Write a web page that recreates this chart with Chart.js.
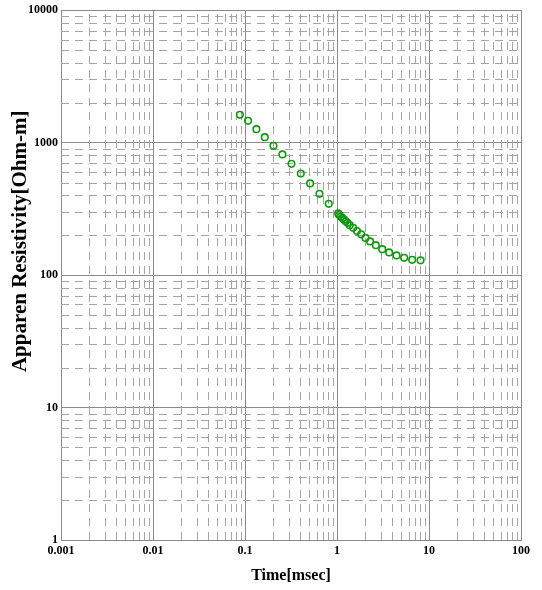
<!DOCTYPE html>
<html>
<head>
<meta charset="utf-8">
<script src="https://cdn.jsdelivr.net/npm/chart.js@4.4.1/dist/chart.umd.min.js"></script>
<style>
  html, body { margin: 0; padding: 0; background: #fff; }
</style>
</head>
<body>
<canvas id="chart" width="542" height="590"></canvas>
<script>
// sounding curve
const timeValues = [
    0.088, 0.108, 0.133, 0.164, 0.204, 0.255, 0.32, 0.404, 0.51, 0.645, 0.814,
    1.03, 1.054, 1.10, 1.148, 1.195, 1.247, 1.30, 1.377, 1.50, 1.65, 1.83,
    2.04, 2.29, 2.64, 3.10, 3.69, 4.44, 5.37, 6.56, 8.10
];
const resistivityValues = [
    1622, 1461, 1265, 1100, 946, 815, 692, 585, 492, 411, 345,
    292, 284, 276, 269, 262, 255, 248, 238, 227.5, 215, 203,
    191, 179.6, 168.3, 157, 148.3, 140.8, 135, 130.5, 129.2
];

const xTickLabels = ['0.001', '0.01', '0.1', '1', '10', '100'];
const yTickLabels = ['1', '10', '100', '1000', '10000'];
const yTitle = 'Apparen Resistivity[Ohm-m]';

const xMajor = xTickLabels.map(Number);
const yMajor = yTickLabels.map(Number);

const fontFamily = "'Liberation Serif', 'Times New Roman', serif";
const majorColor = '#8a8a8a';
const minorColor = '#a4a4a4';
const pointColor = '#129912';

// 2..9 inside each decade
function minorValues(majors) {
    const out = [];
    for (let i = 0; i < majors.length - 1; i++) {
        for (let m = 2; m <= 9; m++) {
            out.push(majors[i] * m);
        }
    }
    return out;
}

// dashed minor grid, placed with the chart's own scales
const minorGrid = {
    id: 'minorGrid',
    beforeDatasetsDraw(chart) {
        const { ctx, chartArea: area, scales: { x, y } } = chart;
        ctx.save();
        ctx.strokeStyle = minorColor;
        ctx.lineWidth = 1;
        ctx.setLineDash([8, 6]);

        minorValues(xMajor).forEach(v => {
            const px = Math.round(x.getPixelForValue(v)) + 0.5;
            ctx.beginPath();
            ctx.moveTo(px, area.bottom);
            ctx.lineTo(px, area.top);
            ctx.stroke();
        });

        minorValues(yMajor).forEach(v => {
            const py = Math.round(y.getPixelForValue(v)) + 0.5;
            ctx.beginPath();
            ctx.moveTo(area.left, py);
            ctx.lineTo(area.right, py);
            ctx.stroke();
        });

        ctx.restore();
    }
};

// y title sits a bit above the middle of the axis in the original
const yTitlePlugin = {
    id: 'yTitle',
    afterDraw(chart) {
        const { ctx, scales: { y } } = chart;
        ctx.save();
        ctx.translate(21, y.getPixelForValue(180));
        ctx.rotate(-Math.PI / 2);
        ctx.textAlign = 'center';
        ctx.textBaseline = 'middle';
        ctx.fillStyle = '#000';
        ctx.font = `bold 21px ${fontFamily}`;
        ctx.fillText(yTitle, 0, 0);
        ctx.restore();
    }
};

const ctx = document.getElementById('chart').getContext('2d');

new Chart(ctx, {
    type: 'scatter',
    data: {
        datasets: [{
            label: 'Apparent resistivity',
            data: timeValues.map((t, i) => ({ x: t, y: resistivityValues[i] })),
            pointStyle: 'circle',
            pointRadius: 3.3,
            pointBorderWidth: 1.6,
            pointBorderColor: pointColor,
            pointBackgroundColor: 'rgba(255,255,255,0)',
            showLine: false
        }]
    },
    options: {
        responsive: false,
        animation: false,
        layout: {
            padding: { top: 10, right: 21, left: 0, bottom: 0 }
        },
        plugins: {
            legend: { display: false },
            tooltip: { enabled: false }
        },
        scales: {
            x: {
                type: 'logarithmic',
                min: xMajor[0],
                max: xMajor[xMajor.length - 1],
                afterBuildTicks: (scale) => {
                    scale.ticks = xMajor.map(v => ({ value: v, major: true }));
                },
                afterFit: (scale) => {
                    scale.height = 50;
                },
                grid: {
                    color: majorColor,
                    lineWidth: 1,
                    drawTicks: false
                },
                border: { color: majorColor, width: 1 },
                ticks: {
                    autoSkip: false,
                    maxRotation: 0,
                    padding: 4,
                    color: '#000',
                    font: { family: fontFamily, size: 12, weight: 'bold' },
                    callback: (value, index) => xTickLabels[index]
                },
                title: {
                    display: true,
                    text: 'Time[msec]',
                    color: '#000',
                    font: { family: fontFamily, size: 16, weight: 'bold' },
                    padding: { top: 0, bottom: 5 }
                }
            },
            y: {
                type: 'logarithmic',
                min: yMajor[0],
                max: yMajor[yMajor.length - 1],
                afterBuildTicks: (scale) => {
                    scale.ticks = yMajor.map(v => ({ value: v, major: true }));
                },
                afterFit: (scale) => {
                    scale.width = 61;
                },
                grid: {
                    color: majorColor,
                    lineWidth: 1,
                    drawTicks: false
                },
                border: { color: majorColor, width: 1 },
                ticks: {
                    autoSkip: false,
                    padding: 3,
                    color: '#000',
                    font: { family: fontFamily, size: 12, weight: 'bold' },
                    callback: (value, index) => yTickLabels[index]
                }
            }
        }
    },
    plugins: [minorGrid, yTitlePlugin]
});
</script>
</body>
</html>
